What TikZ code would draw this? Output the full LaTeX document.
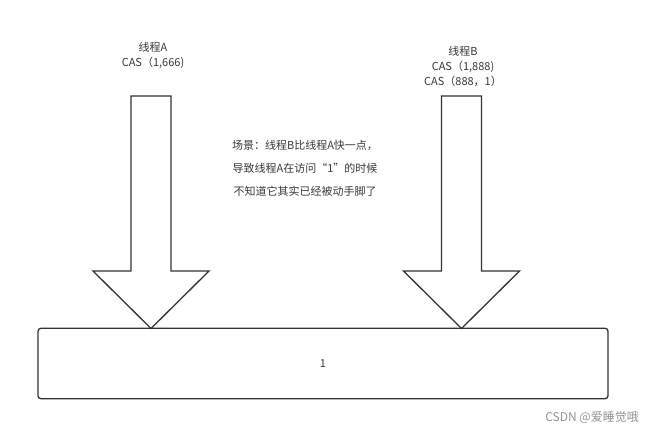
\documentclass[tikz,border=0pt]{standalone}
\usepackage{fontspec}
\setmainfont{Noto Sans CJK SC}
\begin{document}
\begin{tikzpicture}[x=1pt,y=-1pt,
  ln/.style={draw=black!80, line width=1.3pt, line join=miter},
  lbl/.style={text=black!78, font=\fontsize{11}{14.8}\selectfont, align=center, inner sep=0pt},
  note/.style={text=black!78, font=\fontsize{11}{23}\selectfont, align=center, inner sep=0pt},
  wmark/.style={text=black!42, font=\fontsize{12}{14}\selectfont, inner sep=0pt}]
\useasboundingbox (0,0) rectangle (650,430);
\fill[white] (0,0) rectangle (650,430);
% memory box
\node[ln, rounded corners=3pt, minimum width=570pt, minimum height=70.5pt, inner sep=0pt,
      text=black!78, font=\fontsize{11}{13}\selectfont] (mem) at (323,363.5) {1};
% arrow A
\coordinate (tipA) at (151,328.5);
\draw[ln] (131,96) -- (171,96) -- (171,271) -- (209,271) -- (tipA) -- (93,271) -- (131,271) -- cycle;
% arrow B
\coordinate (tipB) at (461.5,328.5);
\draw[ln] (441.5,96) -- (481.5,96) -- (481.5,271) -- (519.5,271) -- (tipB) -- (403.5,271) -- (441.5,271) -- cycle;
% labels
\node[lbl] (ta) at (153,55.5) {线程A\\CAS（1,666)};
\node[lbl] (tb) at (463,66.5) {线程B\\CAS（1,888)\\CAS（888，1）};
\node[note] (nt) at (305,168) {场景：线程B比线程A快一点，\\导致线程A在访问“1”的时候\\不知道它其实已经被动手脚了};
\node[wmark, anchor=east] (wm) at (639,418) {CSDN @爱睡觉哦};
\end{tikzpicture}
\end{document}
